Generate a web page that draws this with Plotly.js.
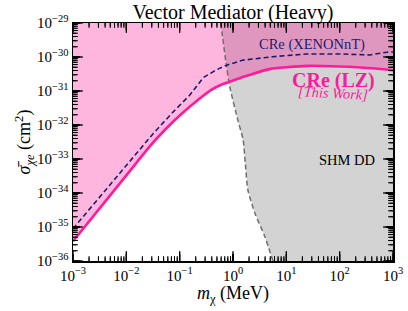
<!DOCTYPE html>
<html>
<head>
<meta charset="utf-8">
<script src="https://cdn.plot.ly/plotly-3.0.1.min.js"></script>
<style>html,body{margin:0;padding:0;background:#fff;}#chart{width:408px;height:311px;}</style>
</head>
<body>
<div id="chart"></div>
<script>
// CRe (LZ) [This Work]
const lzMass = [1e-3, 1e-2, 0.0316, 0.063, 0.1, 0.158, 0.251, 0.398, 0.631, 1, 2, 5, 10, 25, 100, 398, 1000];
const lzSigma = [3.8e-36, 3.31e-34, 3.02e-33, 9.5e-33, 1.9e-32, 3.55e-32, 6.46e-32, 1.1e-31, 1.58e-31, 2.04e-31, 2.95e-31, 4.47e-31, 5.0e-31, 5.5e-31, 5.25e-31, 4.68e-31, 4.07e-31];
// CRe (XENONnT)
const xeMass = [1e-3, 0.0324, 0.075, 0.155, 0.279, 0.49, 0.76, 1.55, 5.6, 24, 100, 372, 760, 1000];
const xeSigma = [8.9e-36, 5.75e-33, 2.4e-32, 7.6e-32, 2.5e-31, 4.2e-31, 5.75e-31, 8.1e-31, 1.02e-30, 1.23e-30, 1.23e-30, 1.15e-30, 1.38e-30, 1.41e-30];
// SHM DD boundary
const shmMass = [0.589, 0.741, 0.871, 1.23, 1.55, 1.7, 1.9, 2.57, 3.98, 5.6];
const shmSigma = [1e-29, 6.6e-31, 1.32e-31, 1.41e-32, 3.63e-33, 7.6e-34, 1.23e-34, 2.57e-35, 5.1e-36, 1e-36];
// tick labels
const xTickVals = [1e-3, 1e-2, 1e-1, 1e0, 1e1, 1e2, 1e3];
const xTickText = ['10<sup>−3</sup>', '10<sup>−2</sup>', '10<sup>−1</sup>', '10<sup>0</sup>', '10<sup>1</sup>', '10<sup>2</sup>', '10<sup>3</sup>'];
const yTickVals = [1e-36, 1e-35, 1e-34, 1e-33, 1e-32, 1e-31, 1e-30, 1e-29];
const yTickText = ['10<sup>−36</sup>', '10<sup>−35</sup>', '10<sup>−34</sup>', '10<sup>−33</sup>', '10<sup>−32</sup>', '10<sup>−31</sup>', '10<sup>−30</sup>', '10<sup>−29</sup>'];

const xMin = 1e-3, xMax = 1e3, yMin = 1e-36, yMax = 1e-29;
const FONT = "Liberation Serif, DejaVu Serif, serif";
const W = 408, H = 311, M = {l: 73, r: 15, t: 23, b: 50};

function minorVals(lo, hi) {
  const out = [];
  for (let e = lo; e < hi; e++) for (let k = 2; k <= 9; k++) out.push(k * Math.pow(10, e));
  return out;
}
const xMinor = minorVals(-3, 3);
const yMinor = minorVals(-36, -29);

// tick marks as markers centred on the frame; the half outside is clipped away
function tickMarkers(xv, yv, size, width) {
  const X = [], Y = [], S = [];
  xv.forEach(v => { X.push(v, v); Y.push(yMin, yMax); S.push('line-ns-open', 'line-ns-open'); });
  yv.forEach(v => { X.push(xMin, xMax); Y.push(v, v); S.push('line-ew-open', 'line-ew-open'); });
  return {x: X, y: Y, mode: 'markers', cliponaxis: true, hoverinfo: 'skip', showlegend: false,
          marker: {symbol: S, size: size, color: '#000', line: {color: '#000', width: width}}};
}
// tick marks as short line segments (second, independent way of drawing the same ticks)
const xDec = (W - M.l - M.r) / Math.log10(xMax / xMin);
const yDec = (H - M.t - M.b) / Math.log10(yMax / yMin);
function tickLines(xv, yv, len, width) {
  const X = [], Y = [];
  const fy = Math.pow(10, len / yDec), fx = Math.pow(10, len / xDec);
  xv.forEach(v => { X.push(v, v, null, v, v, null); Y.push(yMin, yMin * fy, null, yMax, yMax / fy, null); });
  yv.forEach(v => { X.push(xMin, xMin * fx, null, xMax, xMax / fx, null); Y.push(v, v, null, v, v, null); });
  return {x: X, y: Y, mode: 'lines', line: {color: '#000', width: width}, hoverinfo: 'skip', showlegend: false};
}

const traces = [
  { x: shmMass.concat([xMax, xMax]), y: shmSigma.concat([yMin, yMax]),
    mode: 'none', fill: 'toself', fillcolor: '#d3d3d3', hoverinfo: 'skip', showlegend: false },
  { x: lzMass.concat([xMax, xMin]), y: lzSigma.concat([yMax, yMax]),
    mode: 'none', fill: 'toself', fillcolor: 'rgba(255,20,147,0.31)', hoverinfo: 'skip', showlegend: false },
  { x: shmMass, y: shmSigma, mode: 'lines', line: {color: '#6e6e6e', width: 1.5, dash: '5px,3px', shape: 'spline', smoothing: 0.6}, showlegend: false },
  { x: xeMass, y: xeSigma, mode: 'lines', line: {color: '#1c1c6e', width: 1.6, dash: '5px,3px'}, showlegend: false },
  { x: lzMass, y: lzSigma, mode: 'lines', line: {color: '#ff1a9c', width: 2.6, shape: 'spline', smoothing: 0.8}, showlegend: false },
  tickLines(xTickVals, yTickVals, 7, 1.4),
  tickLines(xMinor, yMinor, 3.5, 1.0),
  tickMarkers(xTickVals, yTickVals, 14, 1.4),
  tickMarkers(xMinor, yMinor, 7, 1.0)
];

function axis(tv, tt, range, title) {
  return {
    type: 'log', range: range, showgrid: false, zeroline: false,
    showline: true, linecolor: '#000', linewidth: 1.5, mirror: 'allticks',
    ticks: 'inside', ticklen: 7, tickwidth: 1.4, tickcolor: '#000',
    tickmode: 'array', tickvals: tv, ticktext: tt,
    tickfont: {family: FONT, size: 15, color: '#000'},
    layer: 'above traces',
    title: title
  };
}

const layout = {
  width: W, height: H,
  margin: M,
  paper_bgcolor: '#fff', plot_bgcolor: '#fff',
  title: {text: 'Vector Mediator (Heavy)', xref: 'paper', x: 0.5, xanchor: 'center', y: 0.962, yanchor: 'middle',
          font: {family: FONT, size: 20, color: '#000'}},
  xaxis: axis(xTickVals, xTickText, [-3, 3],
    {text: '<i>m</i><sub>χ</sub> (MeV)', font: {family: FONT, size: 18, color: '#000'}, standoff: 2}),
  yaxis: axis(yTickVals, yTickText, [-36, -29],
    {text: '<i>σ̄</i><sub><i>χe</i></sub> (cm<sup>2</sup>)', font: {family: FONT, size: 18, color: '#000'}, standoff: 0}),
  annotations: [
    {x: Math.log10(30), y: Math.log10(2.4e-30), xref: 'x', yref: 'y', text: 'CRe (XENONnT)', showarrow: false,
     font: {family: FONT, size: 14.5, color: '#1c1c6e'}},
    {x: Math.log10(75), y: Math.log10(2.1e-31), xref: 'x', yref: 'y', text: '<b>CRe (LZ)</b>', showarrow: false,
     font: {family: FONT, size: 20, color: '#ff1a9c'}},
    {x: Math.log10(75), y: Math.log10(8.7e-32), xref: 'x', yref: 'y', text: '<i>[This Work]</i>', showarrow: false,
     textangle: 3, font: {family: FONT, size: 14.5, color: '#ff1a9c'}},
    {x: Math.log10(138), y: Math.log10(9.3e-34), xref: 'x', yref: 'y', text: 'SHM DD', showarrow: false,
     font: {family: FONT, size: 14.5, color: '#000'}}
  ]
};

Plotly.newPlot('chart', traces, layout, {displayModeBar: false, staticPlot: true});
</script>
</body>
</html>
